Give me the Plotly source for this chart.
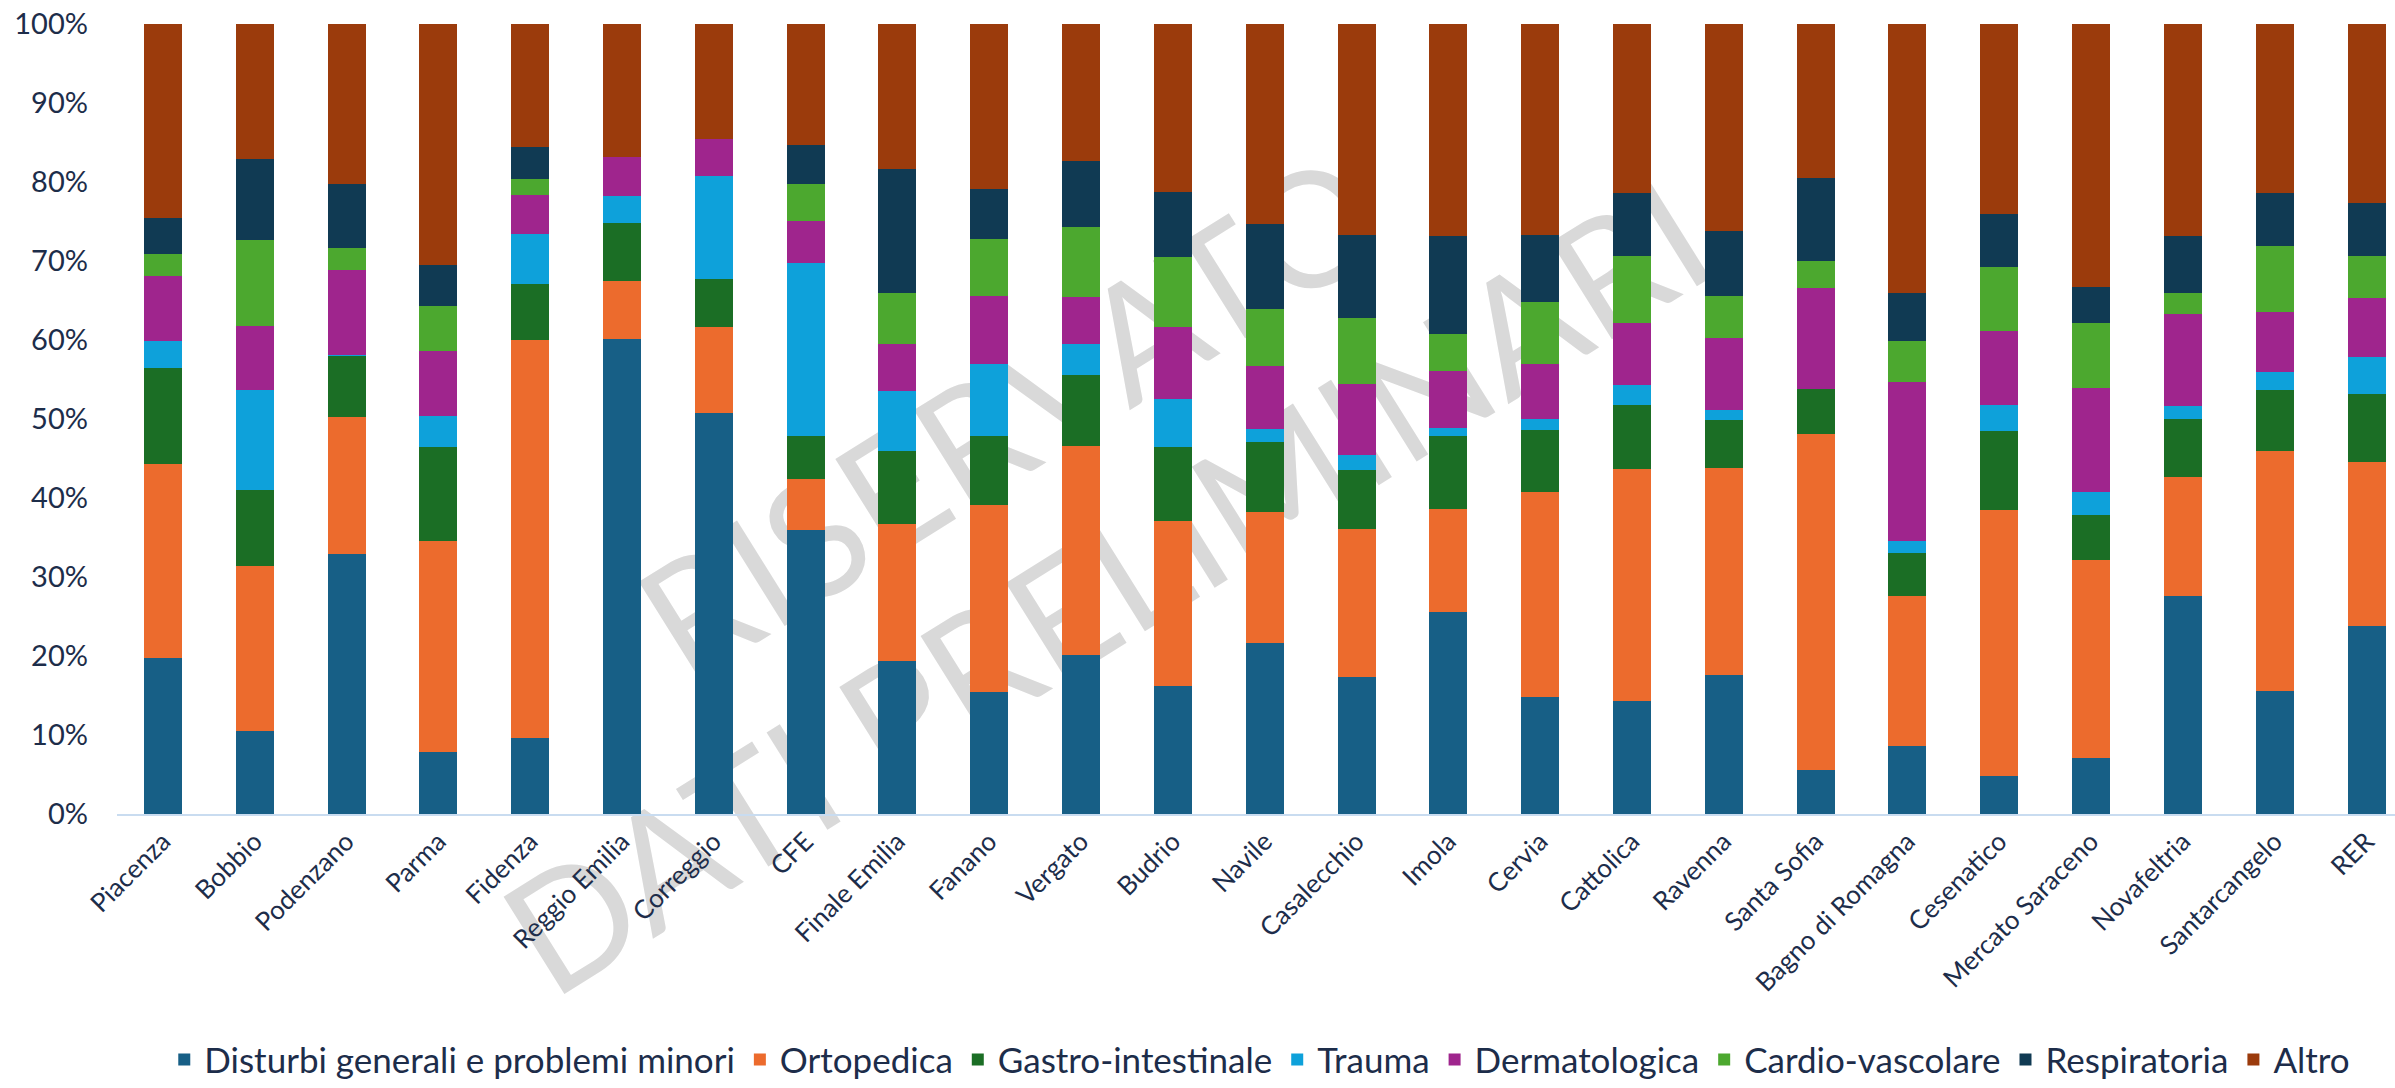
import plotly.graph_objects as go

# Categories (sites) along the x axis
sites = ["Piacenza", "Bobbio", "Podenzano", "Parma", "Fidenza", "Reggio Emilia",
         "Correggio", "CFE", "Finale Emilia", "Fanano", "Vergato", "Budrio",
         "Navile", "Casalecchio", "Imola", "Cervia", "Cattolica", "Ravenna",
         "Santa Sofia", "Bagno di Romagna", "Cesenatico", "Mercato Saraceno",
         "Novafeltria", "Santarcangelo", "RER"]

# Share of accesses by problem group (%)
disturbi = [19.8, 10.5, 32.9, 7.9, 9.6, 60.1, 50.8, 36.0, 19.4, 15.5, 20.1, 16.2,
            21.6, 17.4, 25.6, 14.8, 14.3, 17.6, 5.6, 8.6, 4.8, 7.1, 27.6, 15.6, 23.8]
ortopedica = [24.5, 20.9, 17.4, 26.7, 50.4, 7.4, 10.8, 6.4, 17.3, 23.6, 26.5, 20.9,
              16.6, 18.7, 13.0, 26.0, 29.4, 26.2, 42.5, 19.0, 33.7, 25.0, 15.1, 30.4, 20.7]
gastro = [12.2, 9.6, 7.7, 11.8, 7.1, 7.3, 6.1, 5.5, 9.2, 8.7, 9.0, 9.3,
          8.9, 7.5, 9.3, 7.8, 8.1, 6.1, 5.7, 5.4, 10.0, 5.8, 7.3, 7.7, 8.7]
trauma = [3.4, 12.7, 0.1, 4.0, 6.3, 3.4, 13.0, 21.9, 7.7, 9.2, 3.9, 6.1,
          1.6, 1.9, 1.0, 1.4, 2.5, 1.2, 0.0, 1.6, 3.3, 2.8, 1.7, 2.2, 4.6]
dermatologica = [8.2, 8.1, 10.8, 8.2, 5.0, 5.0, 4.7, 5.3, 5.9, 8.6, 5.9, 9.1,
                 8.0, 8.9, 7.2, 6.9, 7.8, 9.2, 12.8, 20.1, 9.3, 13.2, 11.6, 7.6, 7.5]
cardio = [2.8, 10.9, 2.8, 5.7, 2.0, 0.0, 0.0, 4.7, 6.5, 7.2, 8.9, 8.9,
          7.2, 8.4, 4.7, 7.9, 8.5, 5.3, 3.4, 5.2, 8.1, 8.3, 2.7, 8.4, 5.3]
respiratoria = [4.6, 10.2, 8.1, 5.2, 4.0, 0.0, 0.0, 4.9, 15.6, 6.3, 8.3, 8.2,
                10.8, 10.5, 12.4, 8.5, 8.0, 8.2, 10.5, 6.1, 6.7, 4.5, 7.2, 6.7, 6.8]
altro = [24.5, 17.1, 20.2, 30.5, 15.6, 16.8, 14.6, 15.3, 18.4, 20.9, 17.4, 21.3,
         25.3, 26.7, 26.8, 26.7, 21.4, 26.2, 19.5, 34.0, 24.1, 33.3, 26.8, 21.4, 22.6]

# Y axis ticks
y_ticks = [0, 10, 20, 30, 40, 50, 60, 70, 80, 90, 100]
y_tick_labels = ["0%", "10%", "20%", "30%", "40%", "50%", "60%", "70%", "80%", "90%", "100%"]

series = [
    ("Disturbi generali e problemi minori", disturbi, "#175f86"),
    ("Ortopedica", ortopedica, "#ec6b2d"),
    ("Gastro-intestinale", gastro, "#1b6e25"),
    ("Trauma", trauma, "#0ea1da"),
    ("Dermatologica", dermatologica, "#9f258d"),
    ("Cardio-vascolare", cardio, "#4ca82f"),
    ("Respiratoria", respiratoria, "#103a53"),
    ("Altro", altro, "#9b3b0c"),
]

text_color = "#1d2d4a"

fig = go.Figure()
for name, vals, color in series:
    fig.add_trace(go.Bar(
        x=list(range(len(sites))), y=vals, name=name,
        marker=dict(color=color, line=dict(width=0)),
    ))

# Watermark drawn beneath the bars
wm_font = dict(family="Lato", size=160, color="#d9d9d9")
for txt, cx, cy in [("RISERVATO", 0.391, 0.510), ("DATI PRELIMINARI", 0.433, 0.294)]:
    fig.add_shape(
        type="rect", xref="paper", yref="paper",
        x0=cx - 0.01, x1=cx + 0.01, y0=cy - 0.01, y1=cy + 0.01,
        line=dict(width=0), fillcolor="rgba(0,0,0,0)", layer="below",
        label=dict(text=txt, textangle=-32, textposition="middle center", font=wm_font),
    )

fig.update_layout(
    width=2395, height=1088,
    margin=dict(l=117, r=0, t=24, b=274, autoexpand=False),
    paper_bgcolor="white", plot_bgcolor="rgba(0,0,0,0)",
    barmode="stack", barnorm="percent", bargap=0.586,
    showlegend=True,
    legend=dict(orientation="h", xref="container", x=0.526, xanchor="center",
                yref="container", y=0.026, yanchor="middle",
                font=dict(family="Lato", size=35, color=text_color),
                traceorder="normal", itemwidth=30, tracegroupgap=0),
    xaxis=dict(
        range=[-0.5, 24.31],
        tickmode="array", tickvals=list(range(len(sites))), ticktext=sites,
        tickangle=-45, tickfont=dict(family="Lato", size=26, color=text_color),
        showgrid=False, zeroline=False, ticks="",
        showline=True, linecolor="#c9dcf0", linewidth=2,
    ),
    yaxis=dict(
        range=[0, 100], tickmode="array", tickvals=y_ticks, ticktext=y_tick_labels,
        tickfont=dict(family="Lato", size=29, color=text_color),
        showgrid=False, zeroline=False, ticks="", ticklabelstandoff=28,
    ),
)

fig.write_html("out.html")
